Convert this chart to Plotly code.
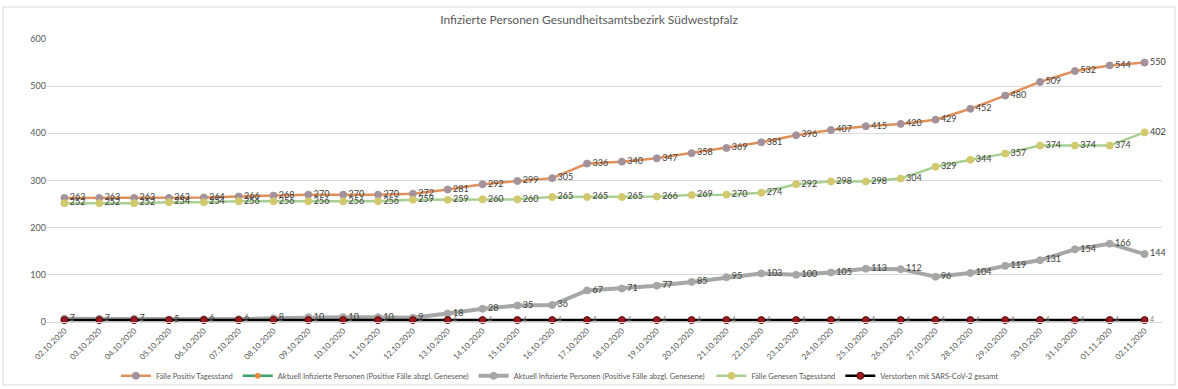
import plotly.graph_objects as go

dates = ["02.10.2020","03.10.2020","04.10.2020","05.10.2020","06.10.2020","07.10.2020","08.10.2020",
         "09.10.2020","10.10.2020","11.10.2020","12.10.2020","13.10.2020","14.10.2020","15.10.2020",
         "16.10.2020","17.10.2020","18.10.2020","19.10.2020","20.10.2020","21.10.2020","22.10.2020",
         "23.10.2020","24.10.2020","25.10.2020","26.10.2020","27.10.2020","28.10.2020","29.10.2020",
         "30.10.2020","31.10.2020","01.11.2020","02.11.2020"]

positiv = [263,263,263,263,264,266,268,270,270,270,272,281,292,299,305,336,340,347,358,369,381,
           396,407,415,420,429,452,480,509,532,544,550]
genesen = [252,252,252,254,254,256,256,256,256,256,259,259,260,260,265,265,265,266,269,270,274,
           292,298,298,304,329,344,357,374,374,374,402]
aktuell = [7,7,7,5,6,6,8,10,10,10,9,18,28,35,36,67,71,77,85,95,103,100,105,113,112,96,104,119,
           131,154,166,144]
verstorben = [4]*32

FONT = "Lato, 'Open Sans', sans-serif"
x = list(range(len(dates)))
fig = go.Figure()

def add(name, y, lc, mc, lw, ms, show_text=True, mline=None, tcol="#404040", tsize=9):
    fig.add_trace(go.Scatter(
        x=x, y=y, name=name,
        mode="lines+markers+text" if show_text else "lines+markers",
        line=dict(color=lc, width=lw),
        marker=dict(color=mc, size=ms, line=dict(color=mline or mc, width=1)),
        text=[str(v) for v in y] if show_text else None,
        textposition="middle right",
        textfont=dict(family=FONT, size=tsize, color=tcol),
        cliponaxis=False,
    ))

add("Fälle Positiv Tagesstand", positiv, "#e0905a", "#a3919b", 2.5, 7)
add("Aktuell Infizierte Personen (Positive Fälle abzgl. Genesene)", aktuell, "#3aa36e", "#ed8a3c", 2.5, 5, show_text=False)
add("Aktuell Infizierte Personen (Positive Fälle abzgl. Genesene) ", aktuell, "#a6a8a6", "#a6a6a6", 4, 7)
add("Fälle Genesen Tagesstand", genesen, "#a8cf94", "#d2c96e", 2.5, 7)
add("Verstorben mit SARS-CoV-2 gesamt", verstorben, "#000000", "#9b1b1f", 2.5, 7, mline="#5a0a0a",
    tcol="#7f7f7f", tsize=7)

fig.add_shape(type="rect", xref="paper", yref="paper", x0=-0.0395, x1=1.0117, y0=-0.2226, y1=1.113,
              line=dict(color="#d9d9d9", width=1), fillcolor="rgba(0,0,0,0)", layer="below")

fig.update_layout(
    width=1178, height=389,
    margin=dict(l=47, r=16, t=39, b=67, autoexpand=False),
    paper_bgcolor="white", plot_bgcolor="white",
    font=dict(family=FONT, color="#595959"),
    title=dict(text="Infizierte Personen Gesundheitsamtsbezirk Südwestpfalz",
               x=0.5, xref="container", xanchor="center",
               y=1 - 20/389, yref="container", yanchor="middle",
               font=dict(family=FONT, size=12, color="#595959")),
    showlegend=True,
    legend=dict(orientation="h", x=0.46, xanchor="center", y=-0.19, yanchor="middle",
                font=dict(family=FONT, size=7.5, color="#595959"), bgcolor="rgba(0,0,0,0)",
                itemwidth=30, tracegroupgap=0),
    xaxis=dict(range=[-0.5, 31.5], tickmode="array", tickvals=x, ticktext=dates,
               tickangle=-45, tickfont=dict(family=FONT, size=8, color="#595959"),
               showgrid=False, showline=True, linecolor="#d9d9d9", linewidth=1,
               zeroline=False, ticks="", automargin=False),
    yaxis=dict(range=[0, 600], dtick=100, showgrid=True, gridcolor="#d9d9d9", gridwidth=1,
               zeroline=False, showline=False, ticks="", automargin=False,
               tickfont=dict(family=FONT, size=9, color="#595959")),
)

fig.write_html("out.html", config={"displayModeBar": False},
               post_script="document.body.style.margin='0';document.body.style.overflow='hidden';")
